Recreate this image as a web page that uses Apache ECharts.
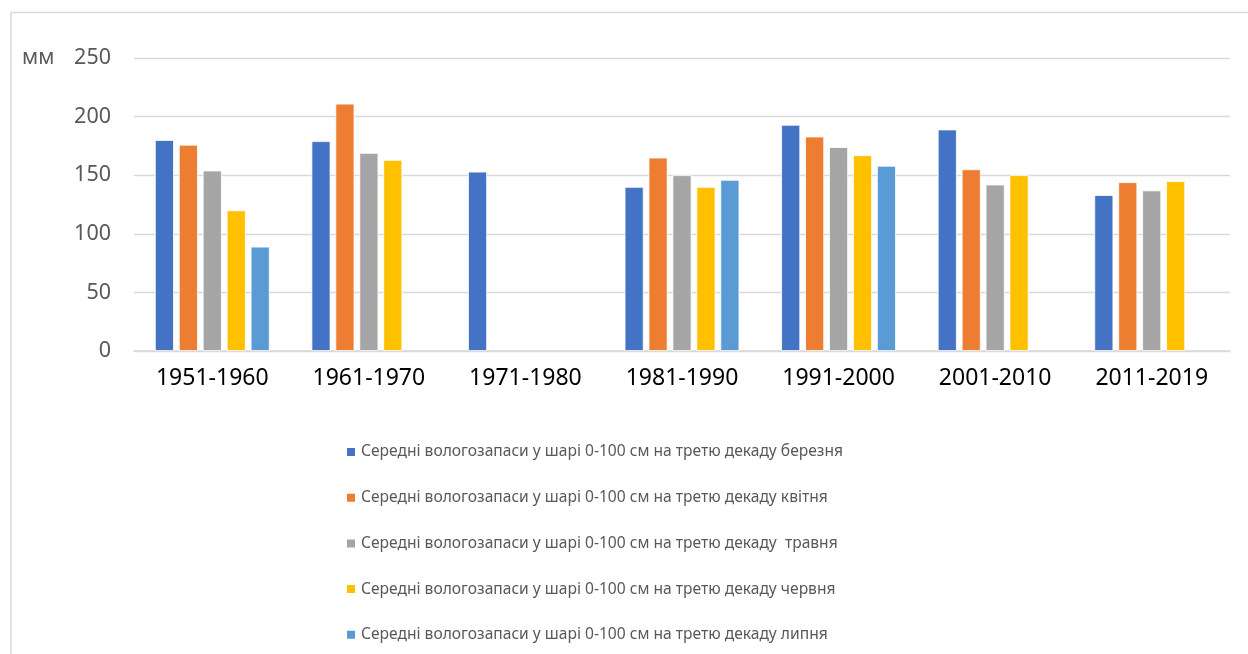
<!DOCTYPE html>
<html>
<head>
<meta charset="utf-8">
<style>
  html, body { margin: 0; padding: 0; background: #fff; }
  #chart { width: 1248px; height: 654px; }
</style>
<script src="https://cdn.jsdelivr.net/npm/echarts@6/dist/echarts.min.js"></script>
</head>
<body>
<div id="chart"></div>
<script>
// decades on the x axis
const categories = ['1951-1960', '1961-1970', '1971-1980', '1981-1990', '1991-2000', '2001-2010', '2011-2019'];

// average moisture stock, mm (null = no bar)
const berezen = [180, 179, 153, 140, 193, 189, 133];
const kviten = [176, 211, null, 165, 183, 155, 144];
const traven = [154, 169, null, 150, 174, 142, 137];
const cherven = [120, 163, null, 140, 167, 150, 145];
const lypen = [89, null, null, 146, 158, null, null];

const seriesNames = [
  'Середні вологозапаси у шарі 0-100 см на третю декаду березня',
  'Середні вологозапаси у шарі 0-100 см на третю декаду квітня',
  'Середні вологозапаси у шарі 0-100 см на третю декаду  травня',
  'Середні вологозапаси у шарі 0-100 см на третю декаду червня',
  'Середні вологозапаси у шарі 0-100 см на третю декаду липня'
];
const seriesData = [berezen, kviten, traven, cherven, lypen];
const colors = ['#4472C4', '#ED7D31', '#A5A5A5', '#FFC000', '#5B9BD5'];

const chart = echarts.init(document.getElementById('chart'));

const option = {
  animation: false,
  color: colors,
  textStyle: { fontFamily: 'Noto Sans' },
  graphic: [
    {
      type: 'polyline',
      shape: { points: [[11, 654], [11, 12.5], [1248, 12.5]] },
      style: { stroke: '#d9d9d9', lineWidth: 1.5, fill: null },
      silent: true
    },
    {
      type: 'text',
      left: 22,
      top: 48,
      style: { text: 'мм', fontSize: 21, fill: '#595959', fontFamily: 'Noto Sans' }
    }
  ],
  legend: {
    orient: 'vertical',
    left: 345,
    top: 442,
    padding: 0,
    itemWidth: 10,
    itemHeight: 10,
    itemGap: 25.7,
    icon: 'rect',
    textStyle: { fontSize: 15.6, color: '#595959', lineHeight: 20 },
    data: seriesNames
  },
  grid: {
    left: 134,
    right: 18,
    top: 58,
    bottom: 303,
    containLabel: false
  },
  xAxis: {
    type: 'category',
    data: categories,
    axisLine: { lineStyle: { color: '#d9d9d9', width: 1.5 } },
    axisTick: { show: false },
    axisLabel: { fontSize: 23, color: '#000', margin: 16 }
  },
  yAxis: {
    type: 'value',
    min: 0,
    max: 250,
    interval: 50,
    axisLine: { show: false },
    axisTick: { show: false },
    axisLabel: { fontSize: 21.5, color: '#595959', margin: 23 },
    splitLine: { lineStyle: { color: '#d9d9d9', width: 1.3 } }
  },
  series: seriesNames.map((name, i) => ({
    name: name,
    type: 'bar',
    data: seriesData[i],
    barWidth: 19,
    barGap: '26%',
    itemStyle: { borderColor: '#fff', borderWidth: 0.8 }
  }))
};

chart.setOption(option);
window.addEventListener('resize', () => {
  chart.resize();
});
</script>
</body>
</html>
